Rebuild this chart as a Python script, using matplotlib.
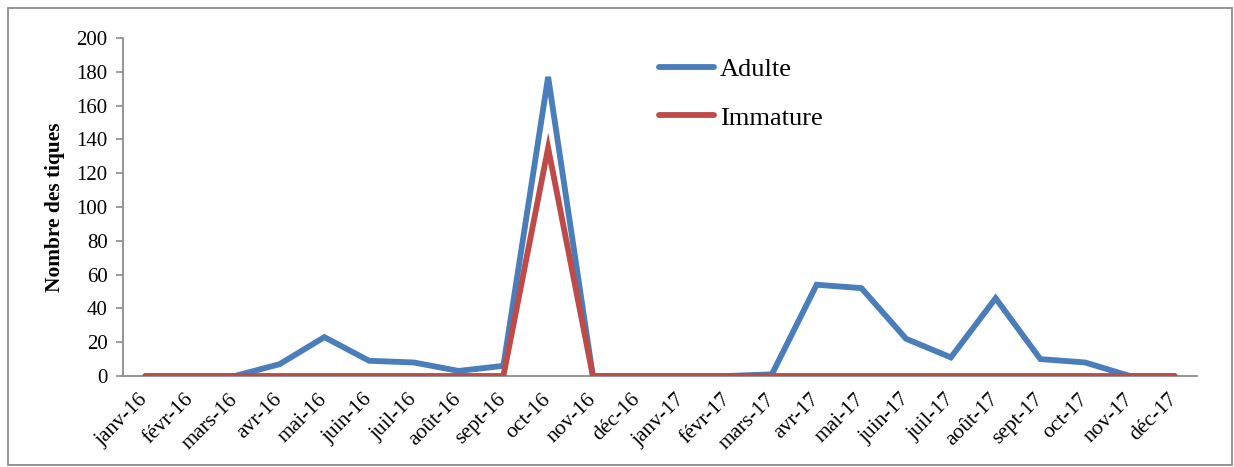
import matplotlib
matplotlib.use("Agg")
import matplotlib.pyplot as plt
from matplotlib.patches import Rectangle

months = ["janv-16", "févr-16", "mars-16", "avr-16", "mai-16", "juin-16", "juil-16",
          "août-16", "sept-16", "oct-16", "nov-16", "déc-16", "janv-17", "févr-17",
          "mars-17", "avr-17", "mai-17", "juin-17", "juil-17", "août-17", "sept-17",
          "oct-17", "nov-17", "déc-17"]
adulte = [0, 0, 0, 7, 23, 9, 8, 3, 6, 177, 0, 0, 0, 0, 1, 54, 52, 22, 11, 46, 10, 8, 0, 0]
immature = [0, 0, 0, 0, 0, 0, 0, 0, 0, 135, 0, 0, 0, 0, 0, 0, 0, 0, 0, 0, 0, 0, 0, 0]
yticks = list(range(0, 201, 20))

plt.rcParams['font.family'] = ['Liberation Serif', 'DejaVu Serif']

fig = plt.figure(figsize=(12.34, 4.67), dpi=100)
ax = fig.add_axes([123/1234, 1-376/467, (1197-123)/1234, (376-38)/467])

x = list(range(len(months)))
ax.plot(x, adulte, color='#4A7EBB', lw=4.2, solid_capstyle='round', solid_joinstyle='miter', label='Adulte', zorder=3)
ax.plot(x, immature, color='#BE4B48', lw=4.2, solid_capstyle='round', solid_joinstyle='miter', label='Immature', zorder=4)

ax.set_xlim(-0.5, len(months) - 0.5)
ax.set_ylim(0, 200)
ax.set_yticks(yticks)
ax.set_yticklabels([str(v) for v in yticks], fontsize=15)
ax.set_xticks(x)
ax.set_xticklabels(months, fontsize=15.5, rotation=45, ha='right', va='center', rotation_mode='anchor')
ax.tick_params(axis='x', length=0, pad=15)
ax.tick_params(axis='y', length=5, width=1.2, color='#8C8C8C', pad=6)

for s in ['top', 'right']:
    ax.spines[s].set_visible(False)
for s in ['left', 'bottom']:
    ax.spines[s].set_color('#8C8C8C')
    ax.spines[s].set_linewidth(1.3)
ax.spines['bottom'].set_zorder(1)

ax.set_ylabel('Nombre des tiques', fontsize=15.4, fontweight='bold')
ax.yaxis.set_label_coords(-0.054, 0.5)

leg = ax.legend(loc='upper left', bbox_to_anchor=(0.477, 1.012), frameon=False, fontsize=19,
                handlelength=2.1, handletextpad=0.2, labelspacing=0.95)

fig.patches.append(Rectangle((8/1234, 1-465/467), (1232-8)/1234, (465-8)/467,
                             transform=fig.transFigure, fill=False, edgecolor='#8C8C8C', lw=1.3))

fig.savefig('out.png', dpi=100)
